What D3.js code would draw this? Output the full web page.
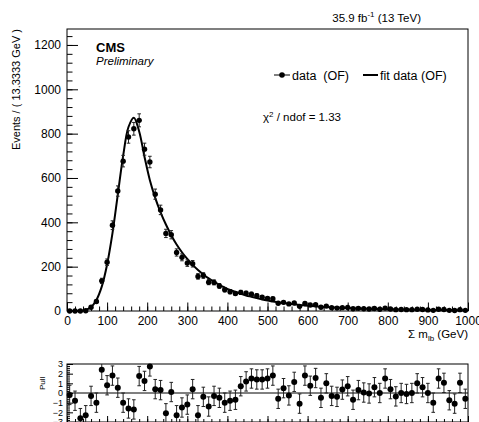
<!DOCTYPE html>
<html>
<head>
<meta charset="utf-8">
<script src="https://cdn.jsdelivr.net/npm/d3@7"></script>
<style>
  body { margin: 0; background: #fff; }
  svg { display: block; }
  text { font-family: "Liberation Sans", Arial, Helvetica, sans-serif; fill: #000; }
</style>
</head>
<body>
<svg id="chart" width="479" height="422"></svg>
<script>
// binning of the Sigma m_lb histogram
const xMin = 0;
const xMax = 1000;
const nBins = 75;

// events per bin (OF data)
const dataCounts = [
  0, 0, 0, 1, 17, 43, 136, 220, 387, 541,
  676, 785, 822, 860, 730, 672, 527, 456, 350, 344,
  264, 242, 216, 213, 156, 160, 130, 129, 113, 96,
  87, 79, 84, 80, 76, 69, 62, 57, 55, 35,
  39, 32, 36, 21, 34, 27, 28, 17, 22, 15,
  13, 15, 16, 10, 12, 10, 9, 11, 8, 13,
  9, 6, 7, 6, 6, 8, 7, 5, 3, 8,
  7, 3, 2, 6, 3
];

// fit curve read at the bin centres
const fitValues = [
  0, 0, 1, 5, 18, 50, 110, 210, 350, 525,
  700, 830, 872, 810, 695, 590, 510, 445, 390, 342,
  300, 265, 235, 208, 185, 165, 147, 132, 118, 106,
  95, 86, 78, 70, 64, 58, 52, 47, 43, 39,
  36, 33, 30, 27, 25, 23, 21, 19, 18, 16,
  15, 14, 13, 12, 11, 10, 9.5, 9, 8.5, 8,
  7.5, 7, 6.6, 6.2, 5.9, 5.6, 5.3, 5, 4.8, 4.6,
  4.4, 4.2, 4, 3.8, 3.6
];

// pulls in the lower panel
const pulls = [
  -0.2, -0.8, -2.6, -2.3, -0.3, -1.0, 2.4, 0.8, 1.8, 0.55,
  -1.0, -1.6, -1.7, 1.75, 1.25, 2.75, 0.4, 0.3, -2.1, 0.1,
  -2.3, -1.5, -1.2, 0.4, -2.3, -0.4, -1.4, -0.3, -0.5, -1.0,
  -0.8, -0.7, 0.7, 1.2, 1.5, 1.4, 1.4, 1.5, 1.8, -0.6,
  0.5, -0.25, 1.15, -1.1, 1.8, 0.75, 1.55, -0.5, 1.0, -0.3,
  -0.4, 0.35, 0.7, -0.7, 0.3, 0.05, -0.05, 0.6, 0.0, 1.5,
  0.4, -0.35, 0.0, -0.1, 0.0, 1.0, 0.6, 0.0, -1.0, 1.5,
  1.05, -0.75, -1.1, 1.05, -0.6
];

const xTicks = [0, 100, 200, 300, 400, 500, 600, 700, 800, 900, 1000];
const yTicks = [0, 200, 400, 600, 800, 1000, 1200];
const pullTicks = [-3, -2, -1, 0, 1, 2, 3];

const svg = d3.select("#chart");
svg.append("rect").attr("width", 479).attr("height", 422).attr("fill", "#fff");

const binWidth = (xMax - xMin) / nBins;
const centers = d3.range(nBins).map((i) => xMin + (i + 0.5) * binWidth);

// scales
const x = d3.scaleLinear().domain([xMin, xMax]).range([67, 468]);
const y = d3.scaleLinear().domain([0, 1272]).range([311, 29]);
const yPull = d3.scaleLinear().domain([-3, 3]).range([422, 364]);

// ---- main frame
svg.append("rect")
  .attr("x", x(xMin)).attr("y", y(1272))
  .attr("width", x(xMax) - x(xMin)).attr("height", y(0) - y(1272))
  .attr("fill", "none").attr("stroke", "#000").attr("stroke-width", 1);

// x axis (ticks inside)
const xAxisG = svg.append("g").attr("transform", `translate(0,${y(0)})`);
xAxisG.call(d3.axisBottom(x).tickValues(d3.range(0, 1001, 20)).tickSizeInner(-4.5).tickSizeOuter(0).tickFormat(""));
xAxisG.append("g").call(d3.axisBottom(x).tickValues(xTicks).tickSizeInner(-8.5).tickSizeOuter(0).tickPadding(5.5).tickFormat(d3.format("d")));
xAxisG.selectAll("path.domain").remove();
xAxisG.selectAll("text").attr("font-size", 12).attr("font-family", null);

// y axis (ticks inside)
const yAxisG = svg.append("g").attr("transform", `translate(${x(xMin)},0)`);
yAxisG.call(d3.axisLeft(y).tickValues(d3.range(0, 1272, 40)).tickSizeInner(-5.5).tickSizeOuter(0).tickFormat(""));
yAxisG.append("g").call(d3.axisLeft(y).tickValues(yTicks).tickSizeInner(-11).tickSizeOuter(0).tickPadding(6).tickFormat(d3.format("d")));
yAxisG.selectAll("path.domain").remove();
yAxisG.selectAll("text").attr("font-size", 12).attr("font-family", null);

// axis titles
svg.append("text")
  .attr("transform", `translate(20,${y(1272)}) rotate(-90)`)
  .attr("text-anchor", "end")
  .attr("font-size", 11)
  .text("Events / ( 13.3333 GeV )");

const xt = svg.append("text")
  .attr("x", x(xMax)).attr("y", 338)
  .attr("text-anchor", "end")
  .attr("font-size", 11.5);
xt.append("tspan").text("\u03A3 m");
xt.append("tspan").attr("font-size", 8).attr("dy", 3).text("lb");
xt.append("tspan").attr("dy", -3).text(" (GeV)");

// fit curve
const fitLine = d3.line()
  .x((d, i) => x(centers[i]))
  .y((d) => y(d))
  .curve(d3.curveCatmullRom.alpha(0.5));

svg.append("path")
  .datum(fitValues)
  .attr("d", fitLine)
  .attr("fill", "none")
  .attr("stroke", "#000")
  .attr("stroke-width", 2);

// data points with sqrt(N) errors
const pts = svg.append("g");
const dataRows = dataCounts.map((n, i) => ({ x: centers[i], n: n, e: Math.sqrt(n) }));
pts.selectAll("line.err")
  .data(dataRows)
  .join("line")
  .attr("class", "err")
  .attr("x1", (d) => x(d.x)).attr("x2", (d) => x(d.x))
  .attr("y1", (d) => y(d.n - d.e)).attr("y2", (d) => y(d.n + d.e))
  .attr("stroke", "#222").attr("stroke-width", 1);
pts.selectAll("line.cap")
  .data(dataRows.flatMap((d) => [{ x: d.x, v: d.n + d.e }, { x: d.x, v: d.n - d.e }]))
  .join("line")
  .attr("class", "cap")
  .attr("x1", (d) => x(d.x) - 1.8).attr("x2", (d) => x(d.x) + 1.8)
  .attr("y1", (d) => y(d.v)).attr("y2", (d) => y(d.v))
  .attr("stroke", "#222").attr("stroke-width", 1);
pts.selectAll("circle")
  .data(dataRows)
  .join("circle")
  .attr("cx", (d) => x(d.x))
  .attr("cy", (d) => y(d.n))
  .attr("r", 2.7)
  .attr("fill", "#000");

// header texts
const lumi = svg.append("text").attr("x", 421).attr("y", 22).attr("text-anchor", "end").attr("font-size", 11.5);
lumi.append("tspan").text("35.9 fb");
lumi.append("tspan").attr("font-size", 8).attr("dy", -5).text("-1");
lumi.append("tspan").attr("dy", 5).text(" (13 TeV)");

svg.append("text").attr("x", 96).attr("y", 52).attr("font-size", 13).attr("font-weight", "bold").text("CMS");
svg.append("text").attr("x", 96).attr("y", 64.5).attr("font-size", 11.5).attr("font-style", "italic").text("Preliminary");

// legend
const leg = svg.append("g");
leg.append("line").attr("x1", 274).attr("x2", 290).attr("y1", 75).attr("y2", 75).attr("stroke", "#000").attr("stroke-width", 1);
leg.append("circle").attr("cx", 282).attr("cy", 75).attr("r", 2.8).attr("fill", "#000");
leg.append("text").attr("x", 292).attr("y", 79.5).attr("font-size", 12.5).style("white-space", "pre").text("data  (OF)");
leg.append("line").attr("x1", 363).attr("x2", 378).attr("y1", 75).attr("y2", 75).attr("stroke", "#000").attr("stroke-width", 2);
leg.append("text").attr("x", 380).attr("y", 79.5).attr("font-size", 12.5).text("fit data (OF)");

const chi = svg.append("text").attr("x", 263).attr("y", 121).attr("font-size", 11.5);
chi.append("tspan").text("\u03C7");
chi.append("tspan").attr("font-size", 8).attr("dy", -4.5).text("2");
chi.append("tspan").attr("dy", 4.5).text(" / ndof = 1.33");

// ---- pull panel
svg.append("rect")
  .attr("x", x(xMin)).attr("y", yPull(3))
  .attr("width", x(xMax) - x(xMin)).attr("height", yPull(-3) - yPull(3))
  .attr("fill", "none").attr("stroke", "#000").attr("stroke-width", 1);

svg.append("line")
  .attr("x1", x(xMin)).attr("x2", x(xMax))
  .attr("y1", yPull(0)).attr("y2", yPull(0))
  .attr("stroke", "#000").attr("stroke-width", 1);

const pyAxisG = svg.append("g").attr("transform", `translate(${x(xMin)},0)`);
pyAxisG.call(d3.axisLeft(yPull).tickValues(d3.range(-3, 3.01, 0.2)).tickSizeInner(-3).tickSizeOuter(0).tickFormat(""));
pyAxisG.append("g").call(d3.axisLeft(yPull).tickValues(pullTicks).tickSizeInner(-6).tickSizeOuter(0).tickPadding(4).tickFormat(d3.format("d")));
pyAxisG.selectAll("path.domain").remove();
pyAxisG.selectAll("text").attr("font-size", 9).attr("font-family", null);

const pxAxisG = svg.append("g").attr("transform", `translate(0,${yPull(-3)})`);
pxAxisG.call(d3.axisBottom(x).tickValues(d3.range(0, 1001, 20)).tickSizeInner(-3).tickSizeOuter(0).tickFormat(""));
pxAxisG.append("g").call(d3.axisBottom(x).tickValues(xTicks).tickSizeInner(-6).tickSizeOuter(0).tickFormat(""));
pxAxisG.selectAll("path.domain").remove();

svg.append("text")
  .attr("transform", `translate(45,${yPull(1)}) rotate(-90)`)
  .attr("text-anchor", "middle")
  .attr("font-size", 8)
  .text("Pull");

const pullRows = pulls.map((p, i) => ({ x: centers[i], p: p }));
const pg = svg.append("g");
pg.selectAll("line.err")
  .data(pullRows)
  .join("line")
  .attr("class", "err")
  .attr("x1", (d) => x(d.x)).attr("x2", (d) => x(d.x))
  .attr("y1", (d) => yPull(Math.max(-3, d.p - 1))).attr("y2", (d) => yPull(Math.min(3, d.p + 1)))
  .attr("stroke", "#222").attr("stroke-width", 1);
pg.selectAll("line.cap")
  .data(pullRows.flatMap((d) => [{ x: d.x, v: d.p + 1 }, { x: d.x, v: d.p - 1 }]).filter((d) => d.v <= 3 && d.v >= -3))
  .join("line")
  .attr("class", "cap")
  .attr("x1", (d) => x(d.x) - 1.8).attr("x2", (d) => x(d.x) + 1.8)
  .attr("y1", (d) => yPull(d.v)).attr("y2", (d) => yPull(d.v))
  .attr("stroke", "#222").attr("stroke-width", 1);
pg.selectAll("circle")
  .data(pullRows)
  .join("circle")
  .attr("cx", (d) => x(d.x))
  .attr("cy", (d) => yPull(d.p))
  .attr("r", 3)
  .attr("fill", "#000");
</script>
</body>
</html>
